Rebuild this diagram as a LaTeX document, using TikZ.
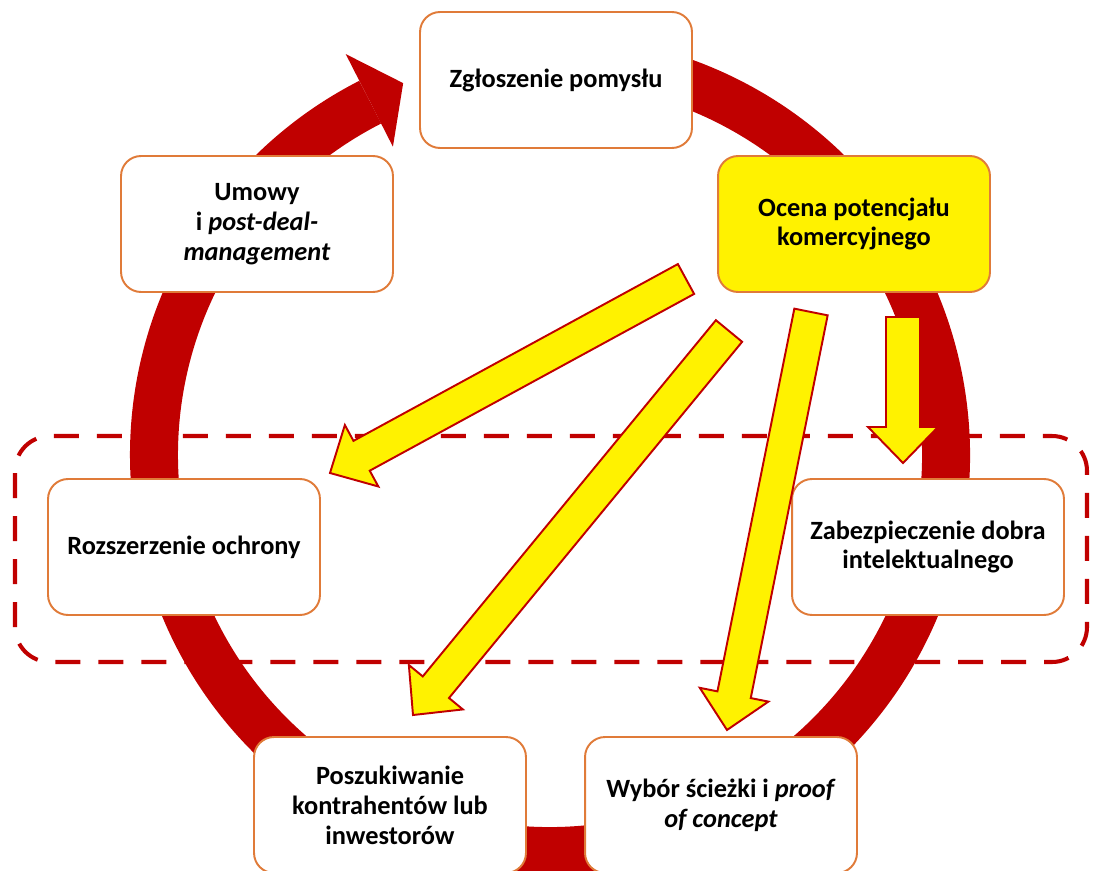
\documentclass[tikz,border=0pt]{standalone}
\usepackage{fontspec}
\setmainfont{Carlito}
\usetikzlibrary{calc}

\definecolor{ringred}{HTML}{C00000}
\definecolor{boxorange}{HTML}{E07B39}

% block arrow from tail #1 to tip #2
\newcommand\fatarrow[2]{%
  \coordinate (fa-b) at ($(#2)!0.72cm!(#1)$);
  \filldraw[yarrow] ($(#1)!0.34cm!90:(#2)$) -- ($(fa-b)!0.34cm!90:(#2)$)
    -- ($(fa-b)!0.7cm!90:(#2)$) -- (#2) -- ($(fa-b)!0.7cm!-90:(#2)$)
    -- ($(fa-b)!0.34cm!-90:(#2)$) -- ($(#1)!0.34cm!-90:(#2)$) -- cycle;}

\begin{document}
\begin{tikzpicture}[line cap=butt, line join=round, x=0.02cm, y=0.02cm,
  stage/.style={draw=boxorange, line width=1.1pt, fill=white, rounded corners=0.4cm,
    minimum width=5.44cm, minimum height=2.72cm, align=center,
    font=\fontsize{15}{17}\selectfont\bfseries},
  yarrow/.style={draw=ringred, fill=yellow, line width=1.1pt, line join=miter}]
  \useasboundingbox (0,0) rectangle (1095,870);
  \coordinate (c) at (550,415);
  % the big cycle, clockwise, head at the top left
  \draw[ringred, line width=0.96cm] ($(c)+(100:396)$) arc (100:-243:396);
  \fill[ringred] ($(c)+(117:346)$) -- ($(c)+(117:450)$) -- ($(c)+(117:398)+(27:38)$) -- cycle;
  % protection band
  \draw[ringred, line width=2.3pt, dash pattern=on 0.5cm off 0.36cm, rounded corners=0.7cm]
    (15,208) rectangle (1087,434);
  % stages
  \node[stage] (idea) at (556,790) {Zgłoszenie pomysłu};
  \node[stage] (deal) at (257,646) {Umowy\\i \textit{post-deal-}\\\textit{management}};
  \node[stage, fill=yellow] (eval) at (854,646) {Ocena potencjału\\komercyjnego};
  \node[stage] (ext) at (184,323) {Rozszerzenie ochrony};
  \node[stage] (protect) at (928,323) {Zabezpieczenie dobra\\intelektualnego};
  \node[stage] (search) at (390,65) {Poszukiwanie\\kontrahentów lub\\inwestorów};
  \node[stage] (choice) at (721,65) {Wybór ścieżki i \textit{proof}\\\textit{of concept}};
  % yellow arrows out of the evaluation
  \coordinate (e1) at (686,591); \coordinate (x1) at (330,397);
  \coordinate (e2) at (729,539); \coordinate (x2) at (413,155);
  \coordinate (e3) at (811,558); \coordinate (x3) at (727,140);
  \coordinate (e4) at (903,553); \coordinate (x4) at (903,407);
  \fatarrow{e1}{x1}
  \fatarrow{e2}{x2}
  \fatarrow{e3}{x3}
  \fatarrow{e4}{x4}
\end{tikzpicture}
\end{document}
